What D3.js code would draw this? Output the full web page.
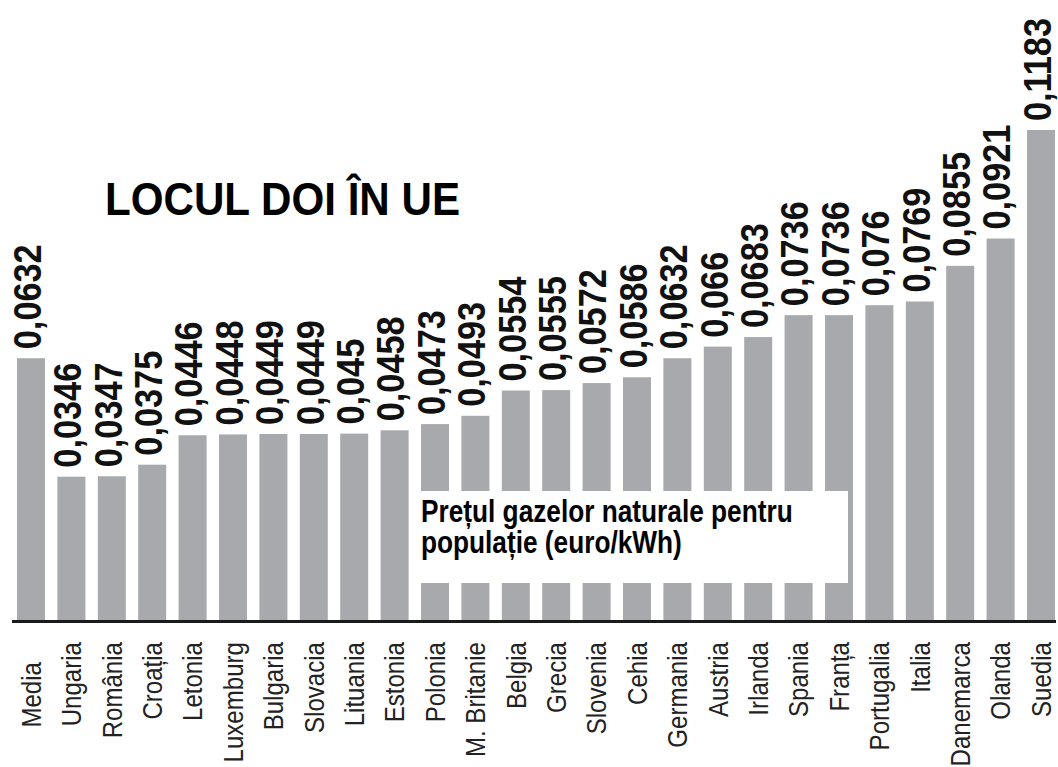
<!DOCTYPE html>
<html>
<head>
<meta charset="utf-8">
<script src="https://cdn.jsdelivr.net/npm/d3@7"></script>
<style>
    body { margin: 0; background: #fff; }
    svg { display: block; }
</style>
</head>
<body>
<div id="container"></div>
<script>
// chart data
const countries = ['Media', 'Ungaria', 'România', 'Croația', 'Letonia', 'Luxemburg', 'Bulgaria',
    'Slovacia', 'Lituania', 'Estonia', 'Polonia', 'M. Britanie', 'Belgia', 'Grecia', 'Slovenia',
    'Cehia', 'Germania', 'Austria', 'Irlanda', 'Spania', 'Franța', 'Portugalia', 'Italia',
    'Danemarca', 'Olanda', 'Suedia'];
const prices = [0.0632, 0.0346, 0.0347, 0.0375, 0.0446, 0.0448, 0.0449, 0.0449, 0.045, 0.0458,
    0.0473, 0.0493, 0.0554, 0.0555, 0.0572, 0.0586, 0.0632, 0.066, 0.0683, 0.0736, 0.0736,
    0.076, 0.0769, 0.0855, 0.0921, 0.1183];
const title = 'LOCUL DOI ÎN UE';
const noteLines = ['Prețul gazelor naturale pentru', 'populație (euro/kWh)'];

const width = 1058;
const height = 767;
const baseY = 620;
const barColor = '#a7a9ac';

const svg = d3.select('#container')
              .append('svg')
              .attr('width', width)
              .attr('height', height);

// scales
const x = d3.scaleBand()
            .domain(countries)
            .range([17, 1055])
            .paddingInner(0.307)
            .paddingOuter(0);
const y = d3.scaleLinear()
            .domain([0, 0.1183])
            .range([baseY, 130]);

const data = countries.map((c, i) => ({ name: c, value: prices[i] }));

// bars
svg.selectAll('rect.bar')
   .data(data)
   .enter()
   .append('rect')
   .attr('class', 'bar')
   .attr('x', (d) => x(d.name))
   .attr('y', (d) => y(d.value))
   .attr('width', x.bandwidth())
   .attr('height', (d) => baseY - y(d.value))
   .attr('fill', barColor);

// value labels
svg.selectAll('text.value')
   .data(data)
   .enter()
   .append('text')
   .attr('class', 'value')
   .attr('transform', (d) => `translate(${x(d.name) + x.bandwidth() / 2},${y(d.value) - 9}) rotate(-90) scale(0.88,1)`)
   .attr('dy', '0.25em')
   .attr('text-anchor', 'start')
   .style('font-family', '"Liberation Sans", Arial, sans-serif')
   .style('font-weight', 'bold')
   .style('font-size', '39px')
   .attr('fill', '#111')
   .text((d) => String(d.value).replace('.', ','));

// baseline
svg.append('line')
   .attr('x1', 12)
   .attr('x2', 1056)
   .attr('y1', baseY + 1.5)
   .attr('y2', baseY + 1.5)
   .attr('stroke', '#1a1a1a')
   .attr('stroke-width', 3);

// category labels
svg.selectAll('text.cat')
   .data(data)
   .enter()
   .append('text')
   .attr('class', 'cat')
   .attr('transform', (d) => `translate(${x(d.name) + x.bandwidth() / 2},${d.name === 'Media' ? 662 : 642}) rotate(-90) scale(0.86,1)`)
   .attr('dy', '0.35em')
   .attr('text-anchor', 'end')
   .style('font-family', '"Liberation Sans", Arial, sans-serif')
   .style('font-size', '28px')
   .attr('fill', '#222')
   .text((d) => d.name);

// title
svg.append('text')
   .attr('x', 105)
   .attr('y', 215)
   .attr('textLength', 355)
   .attr('lengthAdjust', 'spacingAndGlyphs')
   .style('font-family', '"Liberation Sans", Arial, sans-serif')
   .style('font-weight', 'bold')
   .style('font-size', '46px')
   .attr('fill', '#000')
   .text(title);

// note box over the middle bars
svg.append('rect')
   .attr('x', 409)
   .attr('y', 491)
   .attr('width', 439)
   .attr('height', 92)
   .attr('fill', '#fff');

const note = svg.append('text')
   .attr('class', 'note')
   .attr('transform', 'translate(421,522) scale(0.82,1)')
   .style('font-family', '"Liberation Sans", Arial, sans-serif')
   .style('font-weight', 'bold')
   .style('font-size', '32px')
   .attr('fill', '#000');

note.selectAll('tspan')
    .data(noteLines)
    .enter()
    .append('tspan')
    .attr('x', 0)
    .attr('y', (d, i) => i * 31)
    .text((d) => d);
</script>
</body>
</html>
